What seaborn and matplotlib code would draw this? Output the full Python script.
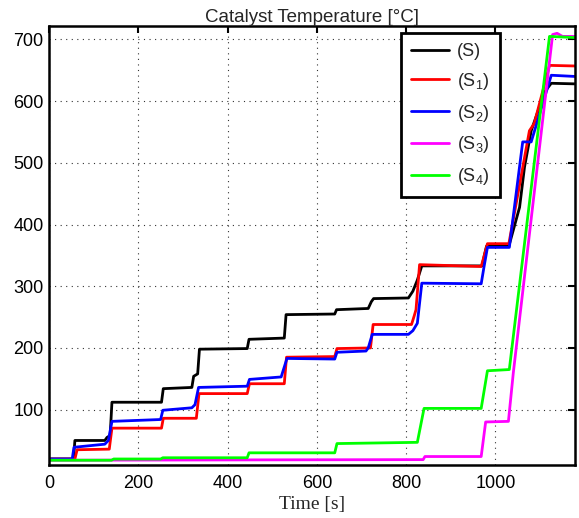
import numpy as np
import pandas as pd
import matplotlib
matplotlib.use("Agg")
import matplotlib.pyplot as plt
import seaborn as sns

# ---- data (vertices) ----
t_S = [0, 55, 58, 125, 130, 137, 141, 252, 256, 320, 324, 333, 337, 444, 448, 527, 531, 640, 644, 715, 722, 727, 805, 815, 825, 835, 970, 975, 980, 1030, 1054, 1065, 1080, 1110, 1125, 1180]
y_S = [20, 20, 50, 50, 55, 58, 112, 112, 134, 136, 154, 158, 198, 199, 214, 216, 254, 255, 262, 264, 275, 280, 281, 292, 310, 333, 333, 350, 365, 365, 428, 493, 552, 615, 629, 628]

t_S1 = [0, 58, 63, 135, 141, 252, 256, 330, 336, 444, 449, 527, 532, 640, 645, 720, 726, 812, 818, 822, 830, 968, 975, 982, 1030, 1076, 1087, 1121, 1180]
y_S1 = [20, 20, 35, 36, 70, 70, 86, 86, 126, 126, 142, 142, 185, 186, 199, 200, 238, 238, 252, 262, 335, 332, 350, 369, 369, 552, 564, 658, 657]

t_S2 = [0, 52, 56, 125, 133, 141, 250, 255, 320, 327, 335, 444, 449, 520, 533, 640, 645, 710, 715, 724, 805, 815, 825, 835, 968, 974, 982, 1031, 1061, 1080, 1125, 1180]
y_S2 = [20, 20, 39, 44, 50, 81, 84, 99, 103, 108, 136, 138, 149, 153, 183, 182, 193, 195, 200, 222, 222, 228, 240, 305, 304, 330, 363, 363, 534, 534, 642, 640]

t_S3 = [0, 838, 842, 968, 978, 1029, 1040, 1128, 1138, 1150, 1180]
y_S3 = [18, 19, 24, 24, 80, 81, 160, 708, 710, 705, 705]

t_S4 = [0, 140, 145, 250, 255, 444, 448, 640, 645, 825, 840, 968, 982, 1031, 1121, 1180]
y_S4 = [18, 18, 20, 20, 22, 22, 30, 30, 45, 47, 102, 102, 163, 165, 705, 703]

series_names = ["S", "S1", "S2", "S3", "S4"]
legend_labels = ["(S)", "(S$_1$)", "(S$_2$)", "(S$_3$)", "(S$_4$)"]
colors = {"S": "#000000", "S1": "#ff0000", "S2": "#0000ff", "S3": "#ff00ff", "S4": "#00ff00"}

frames = []
for name, t, y in zip(series_names, [t_S, t_S1, t_S2, t_S3, t_S4], [y_S, y_S1, y_S2, y_S3, y_S4]):
    frames.append(pd.DataFrame({"Time": t, "Temp": y, "series": name}))
df = pd.concat(frames, ignore_index=True)

sns.set_style("white")
plt.rcParams["font.family"] = ["Liberation Sans", "DejaVu Sans"]
plt.rcParams["mathtext.fontset"] = "custom"
plt.rcParams["mathtext.rm"] = "Liberation Sans"
plt.rcParams["mathtext.it"] = "Liberation Sans"

fig = plt.figure(figsize=(5.79, 5.18), dpi=100)
ax = fig.add_axes([0.0846, 0.102, 0.9084, 0.848])

handles = []
for name in series_names:
    sub = df[df.series == name]
    sns.lineplot(data=sub, x="Time", y="Temp", color=colors[name], lw=2.0,
                 sort=False, estimator=None, ax=ax, legend=False)
    handles.append(ax.lines[-1])

ax.set_xlim(0, 1178)
ax.set_ylim(10, 722)
ax.set_xticks([0, 200, 400, 600, 800, 1000])
ax.set_yticks([100, 200, 300, 400, 500, 600, 700])
ax.grid(True, color="#333333", linestyle=(0, (1, 4)), linewidth=0.8)
ax.set_axisbelow(True)
for s in ax.spines.values():
    s.set_linewidth(1.8)
    s.set_color("black")
    s.set_visible(True)
ax.tick_params(direction="in", length=5, width=1.5, top=True, right=True,
               labelsize=13, colors="black")
ax.tick_params(axis="x", pad=7)
ax.tick_params(axis="y", pad=4)

ax.set_title("Catalyst Temperature [°C]", fontsize=13.5, pad=3)
ax.set_xlabel("Time [s]", fontsize=14, family=["Liberation Serif", "DejaVu Serif"], labelpad=3)
ax.set_ylabel("")

leg = ax.legend(handles, legend_labels, loc="upper right", bbox_to_anchor=(0.857, 0.984),
                borderaxespad=0, fontsize=13, frameon=True, fancybox=False, handlelength=2.1,
                labelspacing=0.6, borderpad=0.55, handletextpad=0.45)
leg.get_frame().set_edgecolor("black")
leg.get_frame().set_linewidth(2.0)
leg.get_frame().set_alpha(1)

fig.savefig("out.png", dpi=100)
